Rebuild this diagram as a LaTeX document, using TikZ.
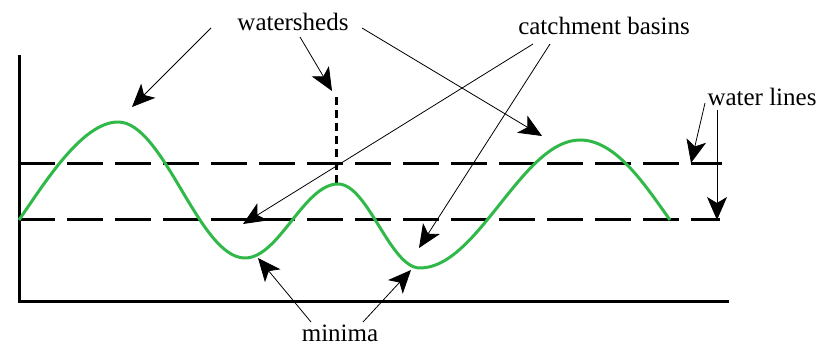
\documentclass[tikz,border=0pt]{standalone}
\usepackage{fontspec}
\setmainfont{Liberation Serif}
\usetikzlibrary{arrows.meta}
\definecolor{curvegreen}{RGB}{48,185,72}
\begin{document}
\begin{tikzpicture}[x=1pt,y=-1pt,
  lbl/.style={font=\fontsize{25}{30}\selectfont, inner sep=0pt},
  ptr/.style={line width=0.8pt, -{Stealth[length=23pt,width=20pt,inset=6pt]}},
  axisline/.style={line width=3pt},
  level/.style={line width=3pt, dash pattern=on 36pt off 12pt},
  ridge/.style={line width=3pt, dash pattern=on 8pt off 5pt},
  terrain/.style={line width=3pt, curvegreen, line join=round}]
\useasboundingbox (0,0) rectangle (821,347);
% axes
\coordinate (ytop) at (19,55);
\coordinate (origin) at (19,301);
\coordinate (xend) at (729,301);
\draw[axisline] (ytop) -- (origin) -- (xend);
% water lines
\coordinate (u0) at (19,164);
\coordinate (u1) at (722,164);
\coordinate (l0) at (19,220);
\coordinate (l1) at (720,220);
\draw[level] (u0) -- (u1);
\draw[level] (l0) -- (l1);
% watershed dam
\coordinate (d0) at (336,97);
\coordinate (d1) at (336,184);
\draw[ridge] (d0) -- (d1);
% terrain
\coordinate (t0) at (19,220);
\coordinate (p1) at (118,122);
\coordinate (m1) at (245,258);
\coordinate (p2) at (338,184);
\coordinate (m2) at (420,268);
\coordinate (p3) at (580,140);
\coordinate (t1) at (670,220);
\draw[terrain] (t0) .. controls (44,184) and (82,122) .. (p1)
  .. controls (164,122) and (199,258) .. (m1)
  .. controls (279,258) and (304,184) .. (p2)
  .. controls (368,184) and (390,268) .. (m2)
  .. controls (478,268) and (522,140) .. (p3)
  .. controls (616,140) and (645,185) .. (t1);
% labels
\node[lbl] (ws) at (293,22) {watersheds};
\node[lbl] (cb) at (604,26) {catchment basins};
\node[lbl] (wl) at (762,97) {water lines};
\node[lbl] (mn) at (340,333) {minima};
% arrow coordinates
\coordinate (a1s) at (211,28);  \coordinate (a1e) at (132,107);
\coordinate (a2s) at (300,37);  \coordinate (a2e) at (332,91);
\coordinate (a3s) at (362,28);  \coordinate (a3e) at (542,136);
\coordinate (a4s) at (533,44);  \coordinate (a4e) at (243,224);
\coordinate (a5s) at (550,44);  \coordinate (a5e) at (419,248);
\coordinate (a6s) at (705,103); \coordinate (a6e) at (691,163);
\coordinate (a7s) at (717,110); \coordinate (a7e) at (717,220);
\coordinate (a8s) at (311,322); \coordinate (a8e) at (258,258);
\coordinate (a9s) at (363,322); \coordinate (a9e) at (411,270);
\draw[ptr] (a1s) -- (a1e);
\draw[ptr] (a2s) -- (a2e);
\draw[ptr] (a3s) -- (a3e);
\draw[ptr] (a4s) -- (a4e);
\draw[ptr] (a5s) -- (a5e);
\draw[ptr] (a6s) -- (a6e);
\draw[ptr] (a7s) -- (a7e);
\draw[ptr] (a8s) -- (a8e);
\draw[ptr] (a9s) -- (a9e);
\end{tikzpicture}
\end{document}
